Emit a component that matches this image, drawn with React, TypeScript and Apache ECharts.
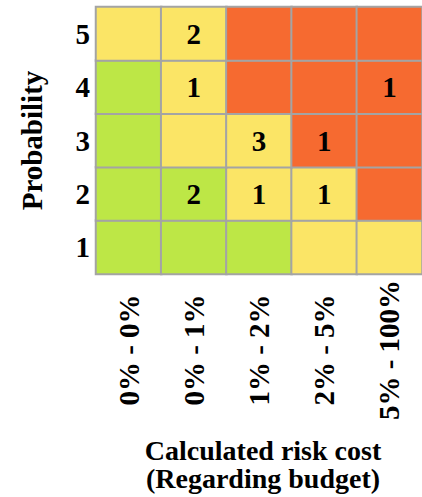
import React, { useEffect, useRef } from "react";
import * as echarts from "echarts";

const costRanges = ["0% - 0%", "0% - 1%", "1% - 2%", "2% - 5%", "5% - 100%"];
const probabilities = ["1", "2", "3", "4", "5"];
// risk level per probability row (1..5) and cost column: 0 green, 1 yellow, 2 orange
const riskLevel = [
  [0, 0, 0, 1, 1],
  [0, 0, 1, 1, 2],
  [0, 1, 1, 2, 2],
  [0, 1, 2, 2, 2],
  [1, 1, 2, 2, 2],
];
// number of risks per cell
const riskCount = [
  [0, 0, 0, 0, 0],
  [0, 2, 1, 1, 0],
  [0, 0, 3, 1, 0],
  [0, 1, 0, 0, 1],
  [0, 2, 0, 0, 0],
];
const levelColors = ["#bde746", "#fbe566", "#f66a30"];
const xAxisTitle = "Calculated risk cost\n(Regarding budget)";
const yAxisTitle = "Probability";

const FONT = '"Liberation Serif", "Times New Roman", serif';
const FS = 29;

export default function App() {
  const ref = useRef<HTMLDivElement>(null);
  useEffect(() => {
    if (!ref.current) return;
    const chart = echarts.init(ref.current, null, { renderer: "svg" });
    const data: any[] = [];
    riskLevel.forEach((row, yi) =>
      row.forEach((lvl, xi) => {
        data.push({ value: [xi, yi, lvl], count: riskCount[yi][xi] });
      })
    );
    chart.setOption({
      animation: false,
      grid: { left: 96, top: 7, width: 334, height: 267 },
      xAxis: {
        type: "category",
        data: costRanges,
        axisLine: { show: false },
        axisTick: { show: false },
        splitLine: { show: false },
        axisLabel: {
          interval: 0,
          rotate: 90,
          align: "center",
          verticalAlign: "middle",
          margin: 76,
          fontFamily: FONT,
          fontWeight: "bold",
          fontSize: FS,
          color: "#000",
        },
      },
      yAxis: {
        type: "category",
        data: probabilities,
        name: yAxisTitle,
        nameLocation: "middle",
        nameGap: 50,
        nameTextStyle: {
          fontFamily: FONT,
          fontWeight: "bold",
          fontSize: FS,
          color: "#000",
        },
        axisLine: { show: false },
        axisTick: { show: false },
        splitLine: { show: false },
        axisLabel: {
          margin: 6,
          fontFamily: FONT,
          fontWeight: "bold",
          fontSize: FS,
          color: "#000",
        },
      },
      visualMap: {
        type: "piecewise",
        show: false,
        dimension: 2,
        pieces: levelColors.map((c, i) => ({ value: i, color: c })),
      },
      series: [
        {
          type: "heatmap",
          data,
          itemStyle: { borderColor: "#a4a4a4", borderWidth: 2 },
          label: {
            show: true,
            fontFamily: FONT,
            fontWeight: "bold",
            fontSize: FS,
            color: "#000",
            formatter: (p: any) => (p.data.count ? String(p.data.count) : ""),
          },
          emphasis: { disabled: true },
        },
      ],
      graphic: [
        {
          type: "text",
          style: {
            text: xAxisTitle,
            x: 263,
            y: 436,
            textAlign: "center",
            textVerticalAlign: "top",
            font: `bold 28px ${FONT}`,
            lineHeight: 28,
            fill: "#000",
          },
        } as any,
      ],
    });
    return () => chart.dispose();
  }, []);
  return (
    <div
      ref={ref}
      style={{ position: "absolute", left: 0, top: 0, width: 422, height: 497 }}
    />
  );
}
